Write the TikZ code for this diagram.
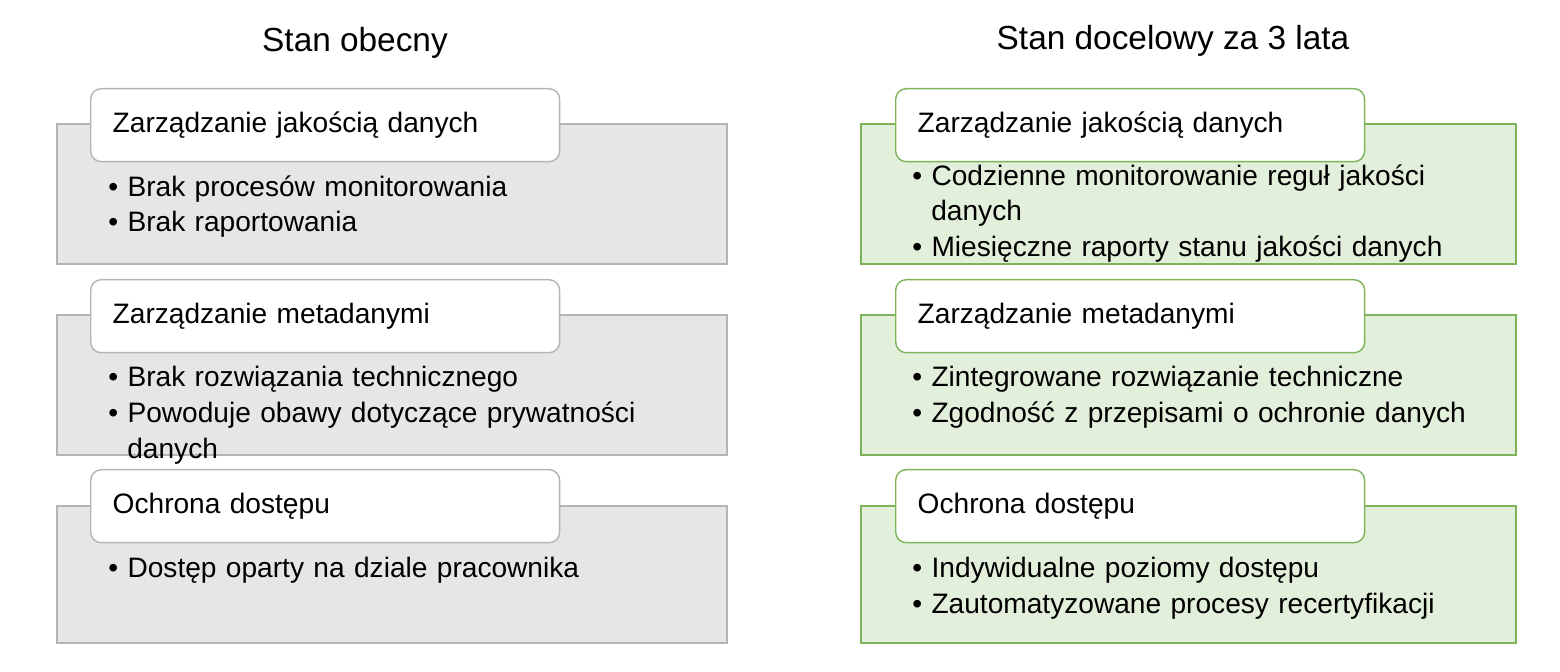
\documentclass[tikz,border=0pt]{standalone}
\usepackage{fontspec}
\setmainfont{Liberation Sans}
\usetikzlibrary{positioning}
\definecolor{panelgray}{HTML}{E6E6E6}
\definecolor{edgegray}{HTML}{B4B4B4}
\definecolor{panelgreen}{HTML}{E2EFDA}
\definecolor{edgegreen}{HTML}{7FB35A}
\tikzset{
  header/.style={draw=edgegray, fill=white, rounded corners=6pt, line width=0.8pt,
    anchor=north west, minimum width=9.38cm, minimum height=1.46cm, inner xsep=0.42cm,
    text width=8.5cm, align=left, font=\fontsize{16}{19}\selectfont},
  items/.style={anchor=north west, text width=#1, align=left,
    font=\fontsize{16}{20.4}\selectfont, inner sep=0pt},
  title/.style={font=\fontsize{19}{22}\selectfont}
}
\begin{document}
\begin{tikzpicture}[x=0.02cm, y=-0.02cm]
\useasboundingbox (0,0) rectangle (1560,672);
% titles
\node[title] (titleL) at (355,43) {Stan obecny};
\node[title] (titleR) at (1173,41) {Stan docelowy za 3 lata};
% current state
\fill[panelgray, draw=edgegray, line width=0.8pt] (57,124) rectangle (727,264);
\fill[panelgray, draw=edgegray, line width=0.8pt] (57,315) rectangle (727,455);
\fill[panelgray, draw=edgegray, line width=0.8pt] (57,506) rectangle (727,643);
\node[header] (hL1) at (90,88) {Zarządzanie jakością danych};
\node[header] (hL2) at (90,279) {Zarządzanie metadanymi};
\node[header] (hL3) at (90,469) {Ochrona dostępu};
\node[items=12cm] (iL1) at (108,175) {• Brak procesów monitorowania\\• Brak raportowania};
\node[items=12cm] (iL2) at (108,366) {• Brak rozwiązania technicznego\\• Powoduje obawy dotyczące prywatności\\\hspace*{0.38cm}danych};
\node[items=12cm] (iL3) at (108,557) {• Dostęp oparty na dziale pracownika};
% target state
\fill[panelgreen, draw=edgegreen, line width=0.8pt] (861,124) rectangle (1516,264);
\fill[panelgreen, draw=edgegreen, line width=0.8pt] (861,315) rectangle (1516,455);
\fill[panelgreen, draw=edgegreen, line width=0.8pt] (861,506) rectangle (1516,643);
\node[header, draw=edgegreen] (hR1) at (895,88) {Zarządzanie jakością danych};
\node[header, draw=edgegreen] (hR2) at (895,279) {Zarządzanie metadanymi};
\node[header, draw=edgegreen] (hR3) at (895,469) {Ochrona dostępu};
\node[items=12.6cm] (iR1) at (912,164) {• Codzienne monitorowanie reguł jakości\\\hspace*{0.38cm}danych\\• Miesięczne raporty stanu jakości danych};
\node[items=12.6cm] (iR2) at (912,366) {• Zintegrowane rozwiązanie techniczne\\• Zgodność z przepisami o ochronie danych};
\node[items=12.6cm] (iR3) at (912,557) {• Indywidualne poziomy dostępu\\• Zautomatyzowane procesy recertyfikacji};
\end{tikzpicture}
\end{document}
